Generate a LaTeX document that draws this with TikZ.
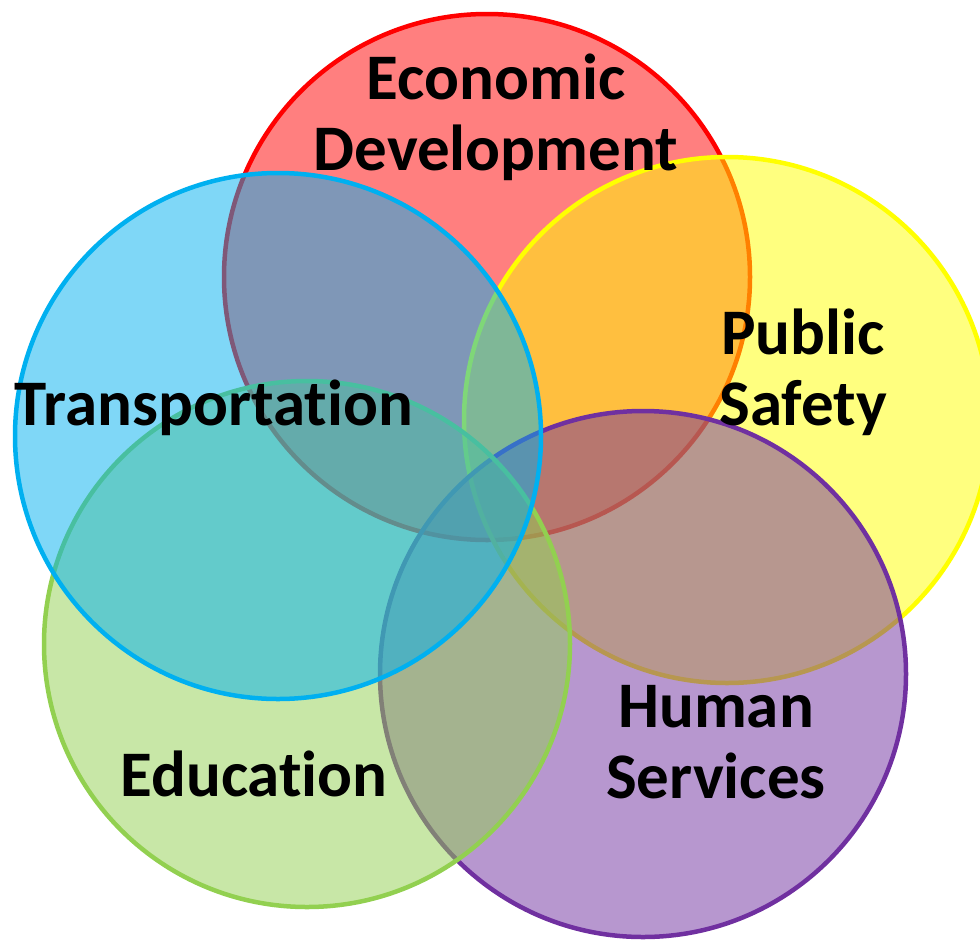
\documentclass[tikz,border=0pt]{standalone}
\usepackage{fontspec}
\setmainfont{Carlito}[Ligatures=NoCommon]
\definecolor{cRed}{HTML}{FF0000}
\definecolor{cYellow}{HTML}{FFFF00}
\definecolor{cBlue}{HTML}{00B0F0}
\definecolor{cGreen}{HTML}{92D050}
\definecolor{cPurple}{HTML}{7030A0}
\tikzset{
  venn/.style={line width=4.5pt, fill opacity=0.5, draw opacity=1},
  lbl/.style={font=\bfseries\fontsize{65}{71}\selectfont, align=center, inner sep=0pt, text=black}
}
\begin{document}
\begin{tikzpicture}[x=1pt,y=-1pt]
\clip (0,0) rectangle (980,943);
\useasboundingbox (0,0) rectangle (980,943);
\def\R{263}
\draw[venn, draw=cRed, fill=cRed] (487,277) circle (\R) coordinate (rc);
\draw[venn, draw=cYellow, fill=cYellow] (727,420) circle (\R) coordinate (yc);
\draw[venn, draw=cPurple, fill=cPurple] (643,674) circle (\R) coordinate (pc);
\draw[venn, draw=cGreen, fill=cGreen] (307,644) circle (\R) coordinate (gc);
\draw[venn, draw=cBlue, fill=cBlue] (278,436) circle (\R) coordinate (bc);
\node[lbl] (econ) at (496,117) {Economic\\Development};
\node[lbl] (safety) at (803,372) {Public\\Safety};
\node[lbl] (trans) at (214,408) {Transportation};
\node[lbl] (edu) at (254,774) {Education};
\node[lbl] (human) at (716,742) {Human\\Services};
\end{tikzpicture}
\end{document}
